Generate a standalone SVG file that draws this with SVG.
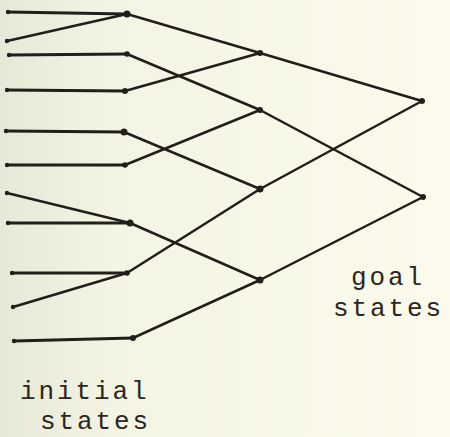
<svg xmlns="http://www.w3.org/2000/svg" width="450" height="437" viewBox="0 0 450 437">
  <defs>
    <linearGradient id="paper" x1="0" y1="0" x2="1" y2="0">
      <stop offset="0" stop-color="#e6e8d8"/>
      <stop offset="0.25" stop-color="#f4f4e4"/>
      <stop offset="1" stop-color="#fbfaec"/>
    </linearGradient>
    <style>
      .edge { stroke: #221e19; stroke-width: 2.5; stroke-linecap: round; fill: none; }
      .leaf { stroke-width: 3; }
      .dot { fill: #221e19; }
      .label { font-family: "Liberation Mono", "DejaVu Sans Mono", monospace; font-size: 26px; letter-spacing: 2.9px; fill: #2a2622; }
    </style>
  </defs>

  <rect width="450" height="437" fill="url(#paper)"/>

  <!-- connectors -->
  <g id="connectors">
    <!-- initial states to first-level nodes -->
    <line class="edge leaf" x1="8" y1="12" x2="127" y2="14"/>
    <line class="edge" x1="7" y1="41" x2="127" y2="14"/>
    <line class="edge leaf" x1="9" y1="55" x2="127" y2="54"/>
    <line class="edge leaf" x1="7" y1="90" x2="125" y2="91"/>
    <line class="edge leaf" x1="6" y1="131" x2="124" y2="132"/>
    <line class="edge leaf" x1="7" y1="165" x2="125" y2="165"/>
    <line class="edge" x1="7" y1="193" x2="130" y2="223"/>
    <line class="edge leaf" x1="8" y1="223" x2="130" y2="223"/>
    <line class="edge leaf" x1="12" y1="273" x2="127" y2="273"/>
    <line class="edge" x1="13" y1="307" x2="127" y2="273"/>
    <line class="edge leaf" x1="14" y1="341" x2="133" y2="338"/>

    <!-- first level to second level -->
    <line class="edge" x1="127" y1="14" x2="260" y2="53"/>
    <line class="edge" x1="127" y1="54" x2="260" y2="110"/>
    <line class="edge" x1="125" y1="91" x2="260" y2="53"/>
    <line class="edge" x1="124" y1="132" x2="260" y2="189"/>
    <line class="edge" x1="125" y1="165" x2="260" y2="110"/>
    <line class="edge" x1="130" y1="223" x2="260" y2="280"/>
    <line class="edge" x1="127" y1="273" x2="260" y2="189"/>
    <line class="edge" x1="133" y1="338" x2="260" y2="280"/>

    <!-- second level to goal states -->
    <line class="edge" x1="260" y1="53" x2="422" y2="101"/>
    <line class="edge" x1="260" y1="189" x2="422" y2="101"/>
    <line class="edge" x1="260" y1="110" x2="423" y2="197"/>
    <line class="edge" x1="260" y1="280" x2="423" y2="197"/>
  </g>

  <!-- initial states -->
  <g id="initial-states">
    <circle class="dot" cx="8" cy="12" r="2.2"/>
    <circle class="dot" cx="7" cy="41" r="2.2"/>
    <circle class="dot" cx="9" cy="55" r="2.2"/>
    <circle class="dot" cx="7" cy="90" r="2.2"/>
    <circle class="dot" cx="6" cy="131" r="2.2"/>
    <circle class="dot" cx="7" cy="165" r="2.2"/>
    <circle class="dot" cx="7" cy="193" r="2.2"/>
    <circle class="dot" cx="8" cy="223" r="2.2"/>
    <circle class="dot" cx="12" cy="273" r="2.2"/>
    <circle class="dot" cx="13" cy="307" r="2.2"/>
    <circle class="dot" cx="14" cy="341" r="2.2"/>
  </g>

  <!-- first level nodes -->
  <g id="level-1">
    <circle class="dot" cx="127" cy="14" r="3.5"/>
    <circle class="dot" cx="127" cy="54" r="2.8"/>
    <circle class="dot" cx="125" cy="91" r="3"/>
    <circle class="dot" cx="124" cy="132" r="3.5"/>
    <circle class="dot" cx="125" cy="165" r="2.8"/>
    <circle class="dot" cx="130" cy="223" r="3.5"/>
    <circle class="dot" cx="127" cy="273" r="2.8"/>
    <circle class="dot" cx="133" cy="338" r="3"/>
  </g>

  <!-- second level nodes -->
  <g id="level-2">
    <circle class="dot" cx="260" cy="53" r="3"/>
    <circle class="dot" cx="260" cy="110" r="3"/>
    <circle class="dot" cx="260" cy="189" r="3.5"/>
    <circle class="dot" cx="260" cy="280" r="3.5"/>
  </g>

  <!-- goal states -->
  <g id="goal-states">
    <circle class="dot" cx="422" cy="101" r="3"/>
    <circle class="dot" cx="423" cy="197" r="3"/>
  </g>

  <!-- labels -->
  <g id="labels">
    <text class="label" x="351" y="285">goal</text>
    <text class="label" x="333" y="316">states</text>
    <text class="label" x="20" y="399">initial</text>
    <text class="label" x="40" y="429">states</text>
  </g>
</svg>
